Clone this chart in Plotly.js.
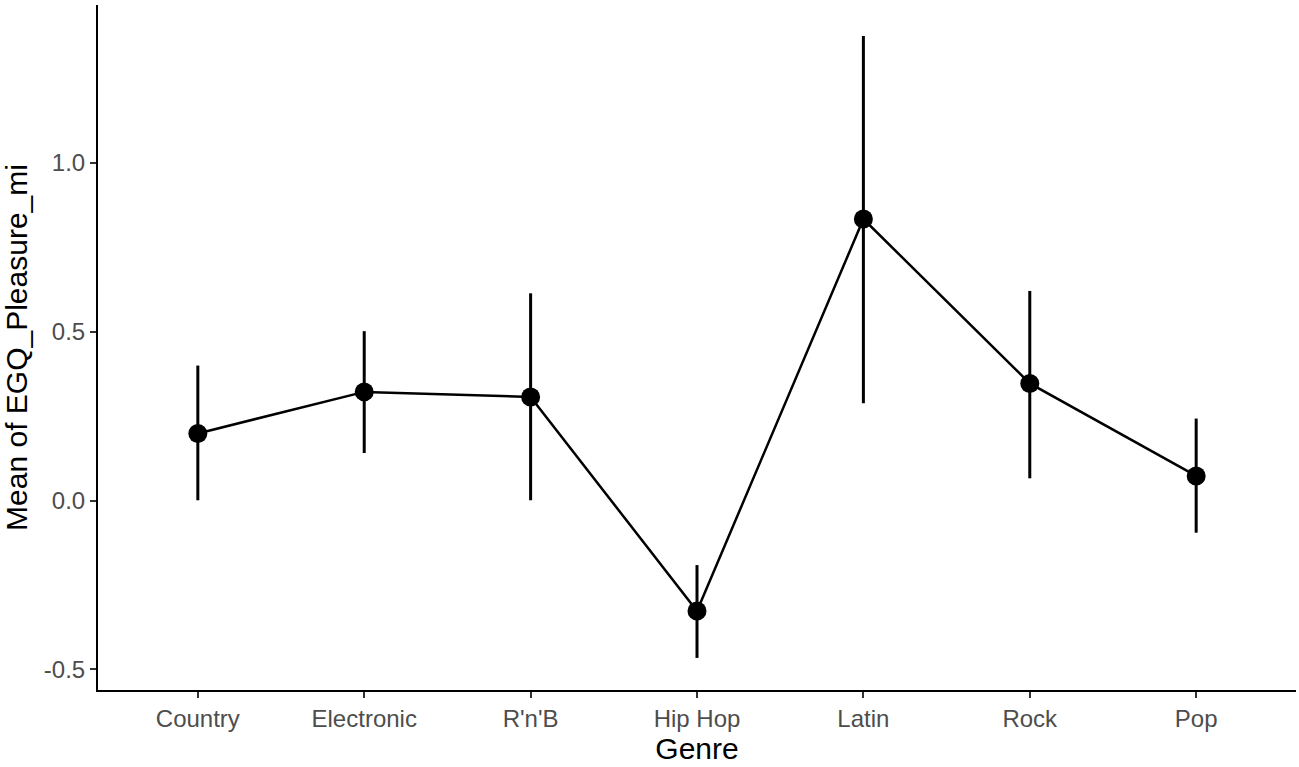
<!DOCTYPE html>
<html>
<head>
<meta charset="utf-8">
<script src="https://cdn.plot.ly/plotly-3.0.1.min.js"></script>
<style>html,body{margin:0;padding:0;background:#fff;}#chart{width:1299px;height:767px;}</style>
</head>
<body>
<div id="chart"></div>
<script>
const genres = ["Country", "Electronic", "R'n'B", "Hip Hop", "Latin", "Rock", "Pop"];
const means  = [0.199, 0.322, 0.307, -0.327, 0.834, 0.347, 0.073];
const upper  = [0.400, 0.502, 0.614, -0.191, 1.376, 0.621, 0.243];
const lower  = [0.001, 0.141, 0.001, -0.466, 0.288, 0.066, -0.095];
const yTickVals = [-0.5, 0.0, 0.5, 1.0];
const yTickText = ["-0.5", "0.0", "0.5", "1.0"];

const errPlus = upper.map((u, i) => u - means[i]);
const errMinus = lower.map((l, i) => means[i] - l);

const trace = {
  x: genres,
  y: means,
  type: 'scatter',
  mode: 'lines+markers',
  line: {color: '#000', width: 2.5},
  marker: {color: '#000', size: 19},
  error_y: {type: 'data', symmetric: false, array: errPlus, arrayminus: errMinus,
            thickness: 3, width: 0, color: '#000'},
  hoverinfo: 'x+y'
};

const tickFont = {family: 'Liberation Sans, Arial, sans-serif', size: 24, color: '#4D4D4D'};
const titleFont = {family: 'Liberation Sans, Arial, sans-serif', size: 30, color: '#000'};

const layout = {
  width: 1299, height: 767,
  margin: {l: 98, r: 3, t: 5, b: 77},
  paper_bgcolor: '#fff', plot_bgcolor: '#fff',
  showlegend: false,
  xaxis: {
    type: 'category', range: [-0.6, 6.6],
    showgrid: false, zeroline: false,
    showline: true, linecolor: '#000', linewidth: 2,
    ticks: 'outside', ticklen: 6, tickwidth: 2, tickcolor: '#333',
    tickfont: tickFont,
    title: {text: 'Genre', font: titleFont, standoff: 4}
  },
  yaxis: {
    range: [-0.561, 1.468],
    tickvals: yTickVals, ticktext: yTickText,
    showgrid: false, zeroline: false,
    showline: true, linecolor: '#000', linewidth: 2,
    ticks: 'outside', ticklen: 6, tickwidth: 2, tickcolor: '#333',
    tickfont: tickFont,
    title: {text: 'Mean of EGQ_Pleasure_mi', font: titleFont, standoff: 10}
  }
};

Plotly.newPlot('chart', [trace], layout, {displayModeBar: false, staticPlot: true});
</script>
</body>
</html>
